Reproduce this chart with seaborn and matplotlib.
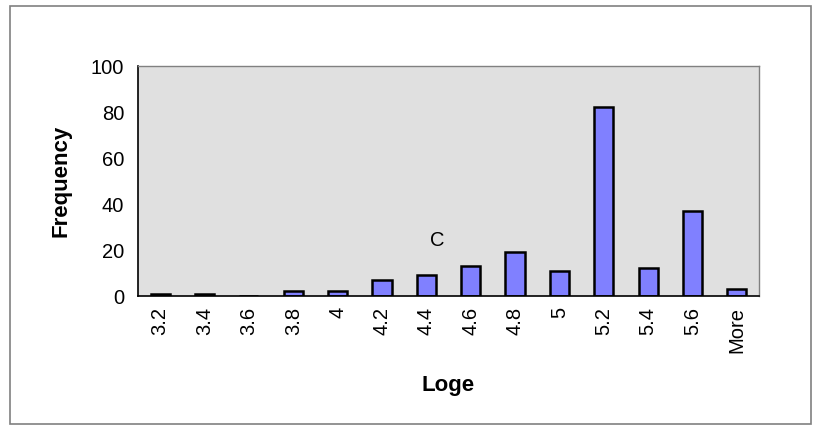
import matplotlib
matplotlib.use("Agg")
import matplotlib.pyplot as plt
from matplotlib.patches import Rectangle
from matplotlib.ticker import FixedLocator
import seaborn as sns
import pandas as pd

# Histogram bins and counts
bins = ["3.2", "3.4", "3.6", "3.8", "4", "4.2", "4.4", "4.6", "4.8", "5", "5.2", "5.4", "5.6", "More"]
frequency = [1, 1, 0, 2, 2, 7, 9, 13, 19, 11, 82, 12, 37, 3]
y_ticks = [0, 20, 40, 60, 80, 100]

df = pd.DataFrame({"Loge": bins, "Frequency": frequency})

sns.set_style("white")
plt.rcParams["font.family"] = ["Liberation Sans", "DejaVu Sans"]
plt.rcParams["text.color"] = "black"
plt.rcParams["axes.labelcolor"] = "black"
plt.rcParams["xtick.color"] = "black"
plt.rcParams["ytick.color"] = "black"

fig = plt.figure(figsize=(8.21, 4.30), dpi=100)
ax = fig.add_axes([138 / 821, 1 - 296 / 430, (759 - 138) / 821, (296 - 66) / 430])

sns.barplot(data=df, x="Loge", y="Frequency", order=bins, color="#8080FF",
            saturation=1, width=0.43, edgecolor="black", linewidth=1.8, ax=ax)

ax.set_facecolor("#E0E0E0")
ax.set_xlim(-0.5, len(bins) - 0.5)
ax.set_ylim(0, 100)
ax.set_yticks(y_ticks)
ax.set_yticklabels([str(t) for t in y_ticks], fontsize=14.5)

# category labels at bar centres, tick marks on bin boundaries
ax.set_xticks(range(len(bins)))
ax.set_xticklabels(bins, rotation=90, fontsize=14.5)
ax.xaxis.set_minor_locator(FixedLocator([i - 0.5 for i in range(len(bins) + 1)]))
ax.tick_params(axis="x", which="major", length=0, pad=8)
ax.tick_params(axis="x", which="minor", length=8, direction="inout", width=1.2, color="black")
ax.tick_params(axis="y", which="major", length=6, direction="out", width=1.2, color="black", pad=4)

for side in ("left", "bottom"):
    ax.spines[side].set_color("black")
    ax.spines[side].set_linewidth(1.2)
for side in ("top", "right"):
    ax.spines[side].set_color("#808080")
    ax.spines[side].set_linewidth(1.0)

ax.set_xlabel("Loge", fontsize=16, fontweight="bold", labelpad=16)
ax.set_ylabel("Frequency", fontsize=16, fontweight="bold", labelpad=14)

ax.text(6.25, 24, "C", fontsize=14.5, ha="center", va="center")

# chart-area border
fig.patches.append(Rectangle((10 / 821, 6 / 430), 801 / 821, 418 / 430,
                             transform=fig.transFigure, fill=False,
                             edgecolor="#808080", linewidth=1.2))

fig.savefig("out.png", dpi=100)
